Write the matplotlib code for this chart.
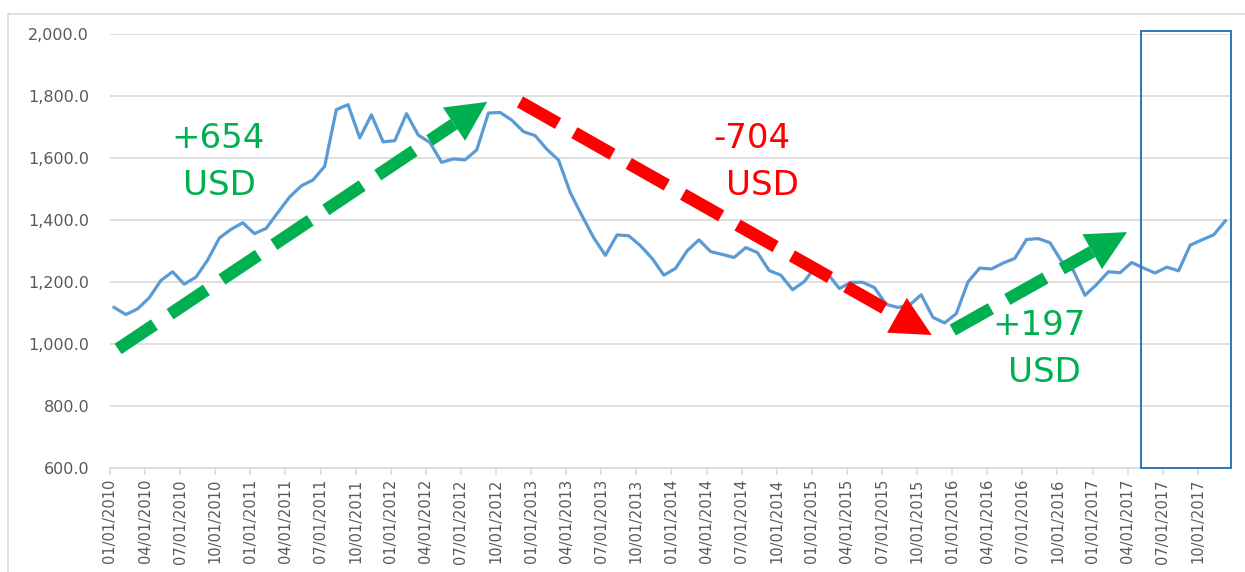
import numpy as np
import matplotlib
matplotlib.use('Agg')
import matplotlib.pyplot as plt
from matplotlib.lines import Line2D
from matplotlib.patches import Polygon, Rectangle
from matplotlib.ticker import FuncFormatter

# monthly gold price (USD/oz), Jan 2010 - Dec 2017
price_2010 = [1118, 1095, 1113, 1149, 1205, 1233, 1193, 1216, 1271, 1342, 1370, 1391]
price_2011 = [1356, 1373, 1424, 1474, 1510, 1529, 1573, 1756, 1772, 1665, 1739, 1652]
price_2012 = [1656, 1743, 1674, 1650, 1586, 1597, 1594, 1626, 1745, 1747, 1722, 1685]
price_2013 = [1672, 1628, 1593, 1488, 1414, 1343, 1286, 1352, 1349, 1317, 1276, 1222]
price_2014 = [1244, 1301, 1336, 1298, 1289, 1279, 1311, 1295, 1237, 1222, 1175, 1201]
price_2015 = [1251, 1227, 1179, 1199, 1199, 1182, 1128, 1118, 1125, 1159, 1086, 1068]
price_2016 = [1098, 1200, 1245, 1242, 1261, 1276, 1337, 1340, 1327, 1267, 1238, 1157]
price_2017 = [1192, 1233, 1230, 1263, 1245, 1229, 1248, 1236, 1319, 1336, 1352, 1397]

years = list(range(2010, 2018))
tick_labels = [f'{m:02d}/01/{y}' for y in years for m in (1, 4, 7, 10)]

# annotation labels
up1_text = ['+654', 'USD']
down_text = ['-704', 'USD']
up2_text = ['+197', 'USD']

prices = np.array(price_2010 + price_2011 + price_2012 + price_2013 +
                  price_2014 + price_2015 + price_2016 + price_2017)
months = np.arange(len(prices))

GREEN = '#00B050'
RED = '#FF0000'
BLUE = '#5B9BD5'
GRID = '#D9D9D9'
TXT = '#595959'

fig = plt.figure(figsize=(12.45, 5.72), dpi=100)
ax = fig.add_axes([110 / 1245, 1 - 468 / 572, 1120 / 1245, 434 / 572])

ax.plot(months, prices, color=BLUE, lw=2.3, zorder=2, solid_joinstyle='round')

ax.set_xlim(-0.35, 95.4)
ax.set_ylim(600, 2000)
ax.set_yticks(np.arange(600, 2001, 200))
ax.yaxis.set_major_formatter(FuncFormatter(lambda v, p: f'{v:,.1f}'))
ax.set_xticks(months[::3] - 0.35)
ax.set_xticklabels(tick_labels, rotation=90)
ax.grid(axis='y', color=GRID, lw=1.2)
ax.set_axisbelow(True)
for s in ['top', 'right', 'left']:
    ax.spines[s].set_visible(False)
ax.spines['bottom'].set_color(GRID)
ax.spines['bottom'].set_linewidth(1.2)
ax.tick_params(axis='y', length=0, pad=15, labelsize=11.5, labelcolor=TXT)
ax.tick_params(axis='x', length=5, color=GRID, width=1.2, pad=3,
               labelsize=10.5, labelcolor=TXT)


def dashed_arrow(start, end, color):
    # dashed shaft + solid triangular head, head sized in pixels
    p0 = ax.transData.transform(start)
    p1 = ax.transData.transform(end)
    u = (p1 - p0) / np.hypot(*(p1 - p0))
    nrm = np.array([-u[1], u[0]])
    head_len, head_w = 40, 40
    base = p1 - u * head_len
    inv = ax.transData.inverted()
    b = inv.transform(base)
    ax.plot([start[0], b[0]], [start[1], b[1]], color=color, lw=9,
            dashes=(3.5, 1.5), solid_capstyle='butt', dash_capstyle='butt',
            zorder=3, clip_on=False)
    tri = inv.transform([p1, base + nrm * head_w / 2, base - nrm * head_w / 2])
    ax.add_patch(Polygon(tri, closed=True, color=color, lw=0, zorder=3, clip_on=False))


dashed_arrow((0.34, 984), (31.9, 1781), GREEN)
dashed_arrow((34.7, 1781), (69.9, 1029), RED)
dashed_arrow((71.7, 1045), (86.6, 1361), GREEN)

fs = 24.5
ax.text(8.9, 1632, up1_text[0], color=GREEN, fontsize=fs, ha='center', va='baseline')
ax.text(9.0, 1481, up1_text[1], color=GREEN, fontsize=fs, ha='center', va='baseline')
ax.text(54.5, 1632, down_text[0], color=RED, fontsize=fs, ha='center', va='baseline')
ax.text(55.4, 1481, down_text[1], color=RED, fontsize=fs, ha='center', va='baseline')
ax.text(79.1, 1029, up2_text[0], color=GREEN, fontsize=fs, ha='center', va='baseline', zorder=4)
ax.text(79.5, 877, up2_text[1], color=GREEN, fontsize=fs, ha='center', va='baseline', zorder=4)

# highlight box around the last months
ax.add_patch(Rectangle((87.75, 600), 7.7, 1410, fill=False, edgecolor='#2E75B6',
                       lw=1.4, zorder=4, clip_on=False))

# chart border
fig.add_artist(Line2D([8 / 1245, 8 / 1245], [0, 1 - 14 / 572], color=GRID, lw=1.2))
fig.add_artist(Line2D([8 / 1245, 1], [1 - 14 / 572, 1 - 14 / 572], color=GRID, lw=1.2))

fig.savefig('out.png', dpi=100)
